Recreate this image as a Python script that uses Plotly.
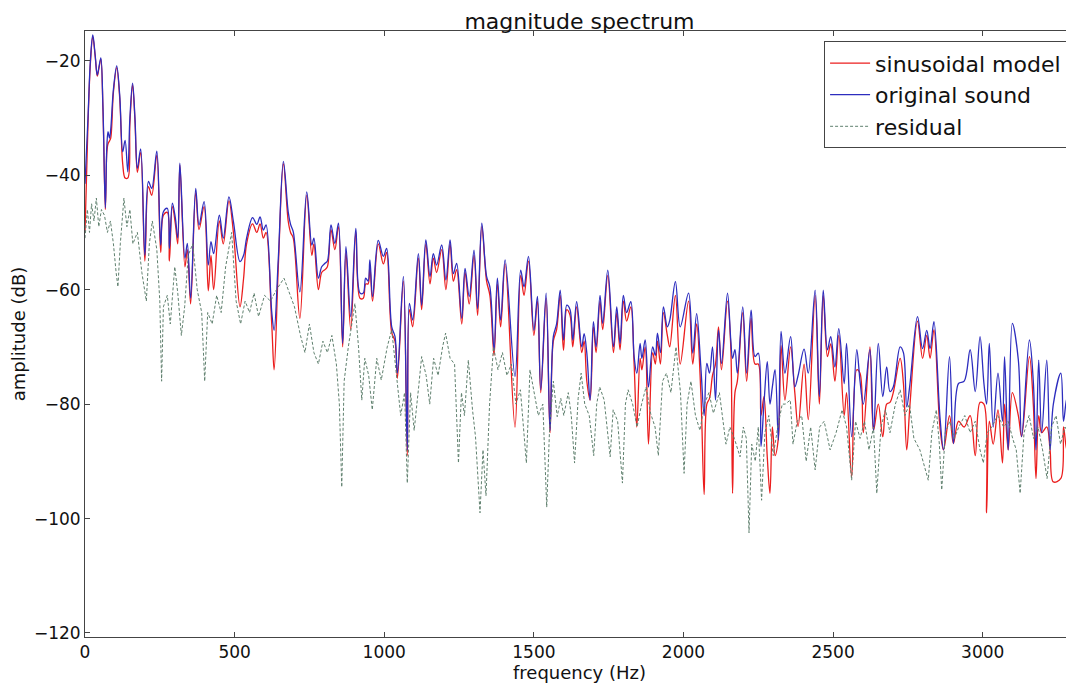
import plotly.graph_objects as go

# ---- original sound (blue) ----
orig_freq = [
    0, 10, 18, 26, 34, 41, 47, 53, 60, 68,
    73, 77, 82, 86, 95, 106, 116, 126, 134, 143,
    150, 159, 167, 175, 186, 200, 212, 223, 240, 253,
    262, 275, 282, 292, 302, 310, 317, 334, 342, 353,
    370, 381, 398, 412, 421, 430, 449, 462, 481, 496,
    518, 530, 540, 560, 574, 585, 596, 605, 624, 632,
    646, 663, 679, 687, 696, 718, 741, 758, 765, 780,
    791, 802, 810, 822, 835, 847, 861, 872, 888, 905,
    919, 930, 938, 946, 952, 961, 980, 997, 1008, 1025,
    1036, 1044, 1064, 1077, 1084, 1095, 1114, 1125, 1139, 1153,
    1164, 1175, 1192, 1206, 1220, 1231, 1242, 1259, 1270, 1284,
    1300, 1312, 1326, 1342, 1353, 1367, 1378, 1389, 1404, 1437,
    1456, 1467, 1482, 1500, 1512, 1523, 1541, 1554, 1565, 1576,
    1588, 1599, 1610, 1621, 1630, 1643, 1660, 1668, 1677, 1688,
    1699, 1708, 1721, 1730, 1747, 1766, 1777, 1788, 1799, 1810,
    1824, 1835, 1844, 1855, 1861, 1872, 1883, 1897, 1906, 1913,
    1923, 1933, 1946, 1954, 1973, 1989, 2017, 2031, 2044, 2058,
    2069, 2078, 2087, 2097, 2107, 2117, 2127, 2147, 2158, 2164,
    2172, 2180, 2198, 2211, 2226, 2239, 2250, 2259, 2269, 2280,
    2289, 2297, 2306, 2317, 2326, 2339, 2358, 2372, 2383, 2403,
    2417, 2440, 2454, 2467, 2481, 2492, 2506, 2519, 2537, 2545,
    2562, 2579, 2590, 2601, 2623, 2635, 2651, 2666, 2679, 2690,
    2701, 2724, 2735, 2746, 2757, 2782, 2799, 2813, 2824, 2837,
    2857, 2869, 2889, 2902, 2919, 2938, 2958, 2975, 2991, 3004,
    3013, 3022, 3035, 3051, 3066, 3073, 3085, 3099, 3119, 3130,
    3156, 3169, 3178, 3187, 3197, 3214, 3225, 3236, 3261, 3270,
    3281, 3292, 3305,
]
orig_db = [
    -41.5, -30, -20, -15.5, -19, -22.5, -21, -19.5, -28, -45.7,
    -35, -32.4, -33.5, -32, -25, -20.9, -26, -35.9, -33.9, -39.4,
    -30, -23.9, -30, -38.8, -35.4, -54.0, -41.1, -42.3, -35.8, -52.2,
    -46.4, -45.8, -52.8, -44.9, -47.5, -51, -37.9, -54.5, -51.9, -61.5,
    -42.3, -48.7, -44.6, -55.7, -51.6, -53.7, -47, -51, -43.8, -48.1,
    -55.1, -54, -51, -47.4, -48.6, -47.3, -49.6, -48.7, -63.9, -67.1,
    -54.5, -37.6, -46.4, -48.6, -49.9, -60.4, -42.9, -52.2, -51, -58,
    -56, -55.4, -55, -48.7, -51.9, -48.4, -69.4, -52.5, -64.7, -49.3,
    -60.6, -60.6, -58, -58.5, -54.8, -61.2, -51.4, -54.2, -52.8, -66.5,
    -68.2, -74.6, -57.7, -88.0, -62.4, -65.3, -53.7, -62.7, -51.3, -57.7,
    -53.7, -55.7, -52.2, -58.3, -51.3, -57.2, -55.4, -65, -56.3, -61.2,
    -53.1, -63.3, -48.4, -57.7, -59.5, -70.5, -58, -65.3, -54.8, -75.2,
    -56.6, -59.5, -54.2, -67.1, -61.2, -77.5, -60.6, -84.6, -68.2, -66,
    -60.1, -68.8, -62.7, -63.5, -68.8, -62.1, -70, -67.7, -71.1, -79.3,
    -65.6, -70, -61, -65.9, -56.6, -70, -63, -69.4, -61, -64,
    -62.1, -71.7, -74.6, -69.4, -72, -68.8, -77, -70, -71.5, -67.6,
    -71, -63, -66.5, -65.4, -58.6, -66.5, -60.6, -71.1, -64.2, -73.5,
    -82, -72.9, -74.6, -70, -79.3, -67.1, -72.9, -60.6, -68.8, -72,
    -70.5, -74.6, -63, -74.6, -63.6, -71.7, -71.1, -87.4, -79.9, -72.6,
    -80, -77, -74, -86.3, -67.3, -74.6, -68.2, -77, -75, -70.4,
    -74.6, -60.1, -78.7, -60.1, -70.5, -68.2, -73.5, -66.8, -76.4, -69.4,
    -85.7, -70.5, -76, -80, -70.5, -84.6, -69.4, -78.7, -73.5, -77.8,
    -77, -70, -71, -80.5, -76.4, -64.7, -70.3, -67.1, -70.3, -65.6,
    -82.2, -88, -71.7, -86.9, -76.4, -76, -70.5, -77.8, -68.2, -76.4,
    -80, -69.4, -84, -74.6, -83, -71.7, -88, -65.9, -72.3, -85.7,
    -68.8, -76, -88, -72.3, -85, -72.3, -88, -80, -74.6, -83,
    -79, -83, -73.5,
]

# ---- sinusoidal model (red), read at the same frequencies ----
model_freq = list(orig_freq)
model_db = [
    -50, -31, -20.5, -15.8, -19.2, -22.7, -21.2, -19.7, -28.5, -46,
    -36, -34.5, -34, -33.5, -25.5, -21.2, -26.5, -38, -40.5, -40.5,
    -31, -24.2, -30.5, -39.5, -36, -55, -42, -43.5, -36.5, -53.5,
    -47, -46.5, -55, -45.5, -48.5, -52, -38.2, -56, -53, -62.5,
    -43, -49.5, -45.5, -60.2, -54, -60, -48, -52, -44.5, -50,
    -63, -58, -52, -48.5, -50, -48.5, -51, -50, -66, -74,
    -56, -38, -48, -50, -51, -65, -43.5, -54, -52, -60,
    -57, -56.5, -56, -49.5, -53, -49, -70, -53.5, -67, -50,
    -61.5, -61.5, -59, -59, -56, -62, -52, -55.5, -53.5, -67.5,
    -69, -75.5, -58.5, -89, -63.5, -66.5, -54.5, -63.5, -52, -59,
    -54.5, -57, -53, -60, -52, -58.5, -56.5, -66, -57, -62.5,
    -54, -64.5, -49, -58.5, -61, -71.5, -59, -66.5, -55.5, -84,
    -57.5, -61, -55, -68, -62, -78, -61.5, -85, -69, -67,
    -61, -70.6, -63.5, -64.5, -70, -63, -71, -69, -76, -79.3,
    -66.5, -71, -62, -67, -57.5, -71, -64, -70.5, -62, -65.5,
    -63, -73, -84, -72, -74, -70, -87, -71, -73, -69,
    -73, -64, -68, -70, -61, -73, -62, -73, -66, -78,
    -95.8, -80, -79, -75, -73, -66.5, -74, -62, -70, -95.6,
    -78, -76, -64, -76, -65, -73, -73, -82, -78.7, -89.3,
    -95.6, -84, -89, -86, -69.8, -79.3, -70, -78, -83.9, -73,
    -82.7, -61, -80, -61, -71.7, -69.5, -76, -68, -82, -78,
    -92.7, -74, -74.6, -85, -70, -84.6, -80, -85.7, -80, -79.7,
    -78, -72, -76.4, -88, -80, -65.5, -72, -68, -72, -67,
    -84, -88, -82, -86.9, -83, -84, -82, -89, -79.7, -80,
    -99, -83, -87, -81, -90.3, -80, -88, -78, -82, -85.7,
    -71.7, -80, -93, -82, -85, -84, -88, -93.6, -93, -84,
    -88, -85, -82,
]

# ---- residual (dashed) ----
res_freq = [
    0, 8, 15, 22, 30, 38, 46, 55, 65, 75,
    85, 95, 104, 110, 118, 130, 140, 150, 160, 175,
    190, 205, 215, 225, 240, 250, 256, 262, 275, 285,
    300, 310, 322, 333, 345, 360, 375, 390, 400, 410,
    425, 440, 455, 470, 490, 505, 520, 535, 550, 565,
    580, 600, 620, 640, 665, 680, 700, 720, 735, 750,
    765, 780, 795, 810, 825, 840, 850, 858, 866, 880,
    902, 914, 925, 935, 948, 960, 975, 990, 1010, 1025,
    1040, 1055, 1068, 1077, 1088, 1100, 1115, 1125, 1140, 1152,
    1165, 1180, 1195, 1205, 1220, 1235, 1248, 1258, 1268, 1281,
    1295, 1305, 1320, 1330, 1340, 1352, 1365, 1380, 1395, 1410,
    1425, 1440, 1455, 1466, 1475, 1487, 1500, 1515, 1530, 1543,
    1552, 1565, 1578, 1590, 1600, 1615, 1625, 1636, 1648, 1658,
    1670, 1685, 1700, 1710, 1720, 1735, 1755, 1765, 1780, 1796,
    1806, 1815, 1830, 1845, 1860, 1875, 1890, 1905, 1916, 1930,
    1943, 1958, 1975, 1990, 2002, 2012, 2025, 2040, 2055, 2070,
    2085, 2100, 2120, 2130, 2142, 2155, 2170, 2189, 2200, 2210,
    2219, 2228, 2240, 2250, 2261, 2272, 2285, 2300, 2315, 2330,
    2340, 2357, 2366, 2380, 2395, 2410, 2425, 2440, 2455, 2470,
    2490, 2510, 2530, 2545, 2562, 2575, 2590, 2605, 2620, 2635,
    2646, 2660, 2675, 2690, 2708, 2724, 2740, 2755, 2770, 2790,
    2800, 2818, 2830, 2845, 2855, 2863, 2875, 2890, 2905, 2920,
    2940, 2958, 2975, 2991, 3002, 3015, 3030, 3050, 3070, 3085,
    3100, 3112, 3125, 3138, 3155, 3170, 3185, 3200, 3215, 3230,
    3245, 3260, 3275, 3290, 3305,
]
res_db = [
    -51, -46, -50, -45, -48, -44, -49, -46, -47, -50,
    -48, -52, -57, -59.5, -52, -44, -49, -46, -52, -50,
    -57, -62, -52, -48, -53, -62, -76, -63, -61, -66,
    -56, -60.6, -68, -63, -54, -52, -60, -64, -76, -64,
    -66, -61, -64, -56, -50, -62, -66, -62, -64, -60.6,
    -64.7, -61, -62, -60, -58, -60, -63, -68, -71, -66,
    -71, -73, -69, -71, -68, -73, -80, -94.5, -76, -70,
    -62.4, -70, -79.3, -72, -75, -81, -72, -75.8, -70, -67,
    -75, -82, -78, -93.8, -78, -84.6, -77, -71.7, -75, -80,
    -72, -75, -70, -67.6, -72, -73, -90.3, -78, -82, -72.3,
    -81, -85.7, -99, -88, -96, -80, -70, -74, -71, -75,
    -73, -80, -77.5, -85, -90.3, -74, -78, -82, -80, -98,
    -85, -76, -82.2, -79, -82, -78, -82, -90.3, -79, -74.6,
    -80, -82, -89, -80, -77, -79.3, -89.2, -81, -83, -93.8,
    -80, -77.5, -80, -84, -80, -77, -81.6, -84, -89, -76,
    -74.6, -78, -70, -78, -92.1, -80, -76, -82, -84.6, -80,
    -78, -81.6, -78, -82, -87, -84, -86, -89.2, -84, -86,
    -102.5, -87, -90, -84, -96.8, -85, -82, -89, -84, -80,
    -80, -79.3, -87, -83, -82, -90, -84, -91.5, -84, -83,
    -88, -85, -81, -84, -93.3, -83, -86, -83, -88, -84,
    -95.6, -84, -81, -85, -80, -77.5, -82, -80, -86, -88,
    -90, -93.3, -85, -81, -87, -95, -85, -83, -86, -84,
    -82, -85, -83, -88, -90.3, -85, -84, -82, -84, -83,
    -86, -88, -95.6, -85, -82, -86, -84, -88, -93, -84,
    -82, -87, -84, -86, -84,
]

assert len(orig_freq) == len(orig_db) == len(model_db)
assert len(res_freq) == len(res_db)

x_ticks = [0, 500, 1000, 1500, 2000, 2500, 3000]
y_ticks = [-120, -100, -80, -60, -40, -20]

FONT = "DejaVu Sans"

fig = go.Figure()
fig.add_trace(go.Scatter(
    x=model_freq, y=model_db, mode="lines", name="sinusoidal model",
    line=dict(color="rgb(235,30,30)", width=1.3, shape="spline", smoothing=1.0),
))
fig.add_trace(go.Scatter(
    x=orig_freq, y=orig_db, mode="lines", name="original sound",
    line=dict(color="rgb(45,45,190)", width=1.3, shape="spline", smoothing=1.0),
))
fig.add_trace(go.Scatter(
    x=res_freq, y=res_db, mode="lines", name="residual",
    line=dict(color="rgb(95,128,110)", width=1, dash="3px,2px"),
))

axis_common = dict(
    showgrid=False, zeroline=False, showline=True, linecolor="#444",
    linewidth=1, mirror="allticks", ticks="inside", ticklen=5,
    tickcolor="#444", tickfont=dict(family=FONT, size=17, color="#111"),
)

# The page adds an 8px body margin, so the figure is sized to fill the window.
fig.update_layout(
    width=1066, height=678,
    margin=dict(l=77, r=0, t=23, b=49),
    paper_bgcolor="white", plot_bgcolor="white",
    font=dict(family=FONT, color="#111"),
    title=dict(text="magnitude spectrum", xref="paper", x=0.5, xanchor="center",
               yref="container", y=0.981, yanchor="middle",
               font=dict(family=FONT, size=22)),
    xaxis=dict(range=[0, 3305], tickvals=x_ticks,
               title=dict(text="frequency (Hz)", font=dict(family=FONT, size=18), standoff=2),
               **axis_common),
    yaxis=dict(range=[-120.7, -14.8], tickvals=y_ticks,
               title=dict(text="amplitude (dB)", font=dict(family=FONT, size=18), standoff=8),
               **axis_common),
    legend=dict(x=0.993, xanchor="right", y=0.983, yanchor="top",
                bgcolor="white", bordercolor="#444", borderwidth=1,
                font=dict(family=FONT, size=22), itemwidth=40,
                tracegroupgap=4),
    showlegend=True,
)

fig.write_html("out.html")
